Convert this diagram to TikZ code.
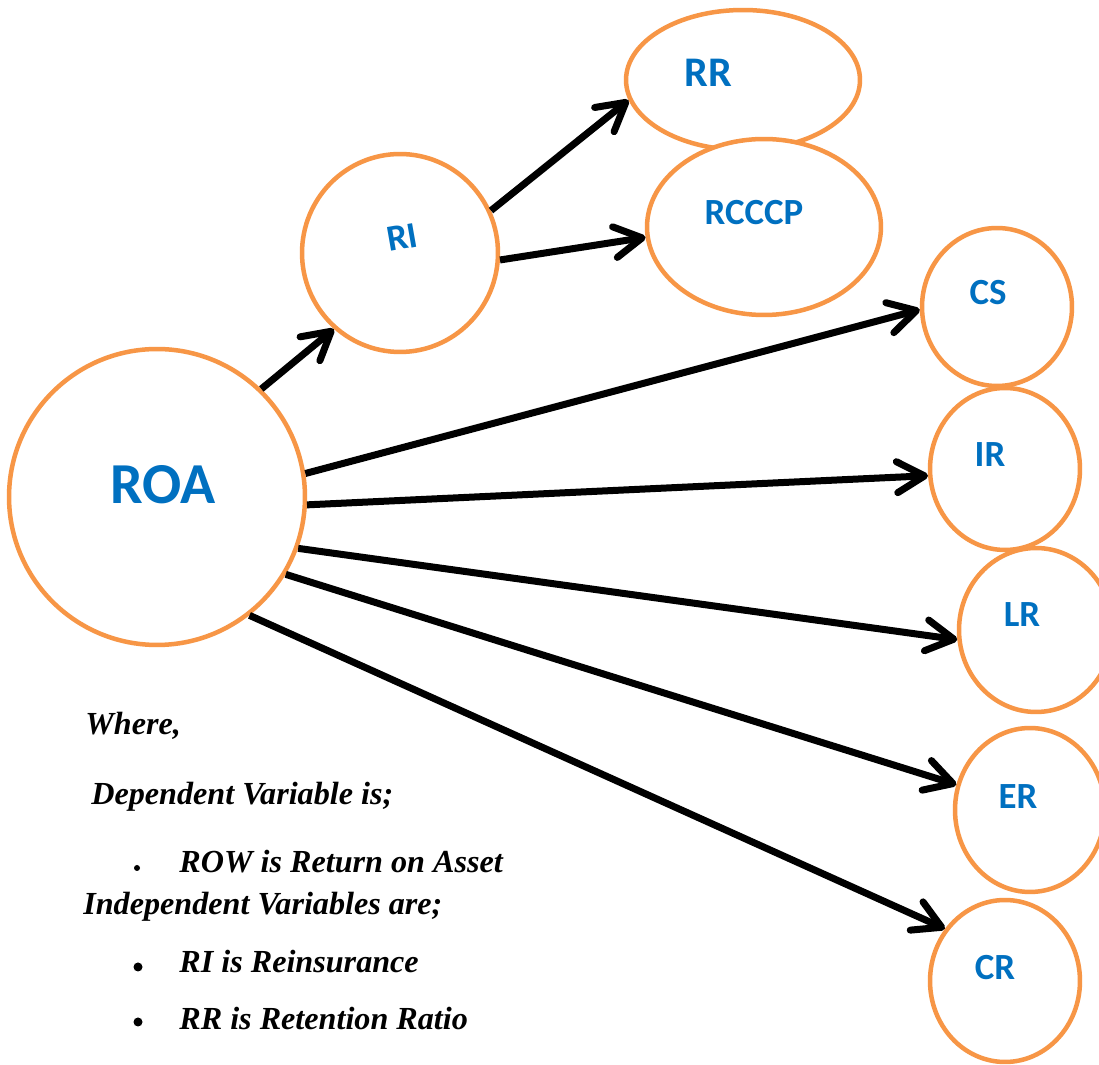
\documentclass[tikz,border=0pt]{standalone}
\usepackage{fontspec}
\setmainfont{Liberation Serif}
\newfontfamily\calib{Carlito}
\usetikzlibrary{shapes.geometric,arrows.meta}
\definecolor{accorange}{HTML}{F79646}
\definecolor{accblue}{HTML}{0070C0}
\begin{document}
\begin{tikzpicture}[x=0.02cm,y=0.02cm,
 var/.style={ellipse, draw=accorange, line width=0.09cm, inner sep=0pt, fill=white},
 lab/.style={text=accblue, inner sep=0pt, font=\calib\bfseries\fontsize{21}{24}\selectfont},
 conn/.style={line width=0.14cm, -{Straight Barb[length=0.55cm,width=0.62cm,round]}},
 note/.style={font=\bfseries\itshape\fontsize{18.3}{21}\selectfont, anchor=base west, inner sep=0pt},
 dotb/.style={fill=black, draw=none}
]
\clip (0,0) rectangle (1099,1065);
\fill[white] (0,0) rectangle (1099,1065);

% nodes
\node[var, minimum width=5.92cm, minimum height=5.92cm,
  label={[lab, font=\calib\bfseries\fontsize{33}{36}\selectfont, shift={(6,12)}]center:ROA}] (ROA) at (157,568) {};
\node[var, minimum width=3.92cm, minimum height=3.96cm,
  label={[lab, rotate=10, shift={(5,15)}]center:RI}] (RI) at (400,812) {};
\node[var, minimum width=4.68cm, minimum height=2.80cm,
  label={[lab, font=\calib\bfseries\fontsize{24}{27}\selectfont, shift={(-35,7)}]center:RR}] (RR) at (743,985) {};
\node[var, minimum width=4.68cm, minimum height=3.52cm,
  label={[lab, shift={(-10,14)}]center:RCCCP}] (RCCCP) at (764,838) {};
\node[var, minimum width=3.0cm, minimum height=3.16cm,
  label={[lab, shift={(-9,14)}]center:CS}] (CS) at (997,758) {};
\node[var, minimum width=3.0cm, minimum height=3.24cm,
  label={[lab, shift={(-15,14)}]center:IR}] (IR) at (1005,596) {};
\node[var, minimum width=3.08cm, minimum height=3.28cm,
  label={[lab, shift={(-14,15)}]center:LR}] (LR) at (1036,435) {};
\node[var, minimum width=3.0cm, minimum height=3.28cm,
  label={[lab, shift={(-12,13)}]center:ER}] (ER) at (1030,255) {};
\node[var, minimum width=3.0cm, minimum height=3.24cm,
  label={[lab, shift={(-10,13)}]center:CR}] (CR) at (1005,84) {};

% connectors
\draw[conn] (ROA.46) -- (RI.229);
\draw[conn] (RI.25) -- (RR.190);
\draw[conn] (RI.-4) -- (RCCCP.185);
\draw[conn] (ROA.9) -- (CS.182);
\draw[conn] (ROA.-3) -- (IR.185);
\draw[conn] (ROA.-20) -- (LR.187);
\draw[conn] (ROA.-31) -- (ER.161);
\draw[conn] (ROA.-52) -- (CR.139);

% legend text
\node[note] (t1) at (85,330) {Where,};
\node[note] (t2) at (91,260) {Dependent Variable is;};
\node[note] (t3) at (179,192) {ROW is Return on Asset};
\node[note] (t4) at (83,150) {Independent Variables are;};
\node[note] (t5) at (179,92) {RI is Reinsurance};
\node[note] (t6) at (179,35) {RR is Retention Ratio};
\fill[dotb] (137,197) circle (3);
\fill[dotb] (138,98) circle (4.5);
\fill[dotb] (138,43) circle (4.5);
\end{tikzpicture}
\end{document}
